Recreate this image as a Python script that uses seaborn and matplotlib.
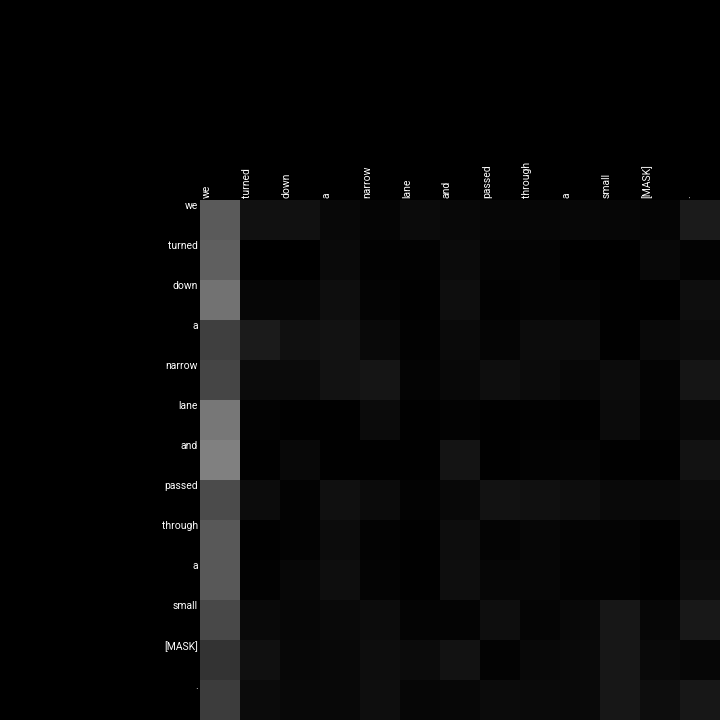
import numpy as np
import pandas as pd
import matplotlib
matplotlib.use('Agg')
import matplotlib.pyplot as plt
import seaborn as sns

# tokens of the sentence (query = rows, key = columns)
tokens = ['we', 'turned', 'down', 'a', 'narrow', 'lane', 'and',
          'passed', 'through', 'a', 'small', '[MASK]', '.']

# attention weights, on a 0-255 grey scale
row_we      = [90, 17, 17,  8,  5, 11,  8,  6,  6,  7,  6,  5, 27]
row_turned  = [95,  0,  0, 10,  2,  2, 11,  4,  4,  0,  0,  8,  3]
row_down    = [114, 6,  6, 14,  4,  1, 14,  2,  4,  4,  1,  0, 14]
row_a1      = [63, 27, 16, 18,  9,  2, 10,  5, 12, 12,  1,  9, 12]
row_narrow  = [69, 11, 11, 18, 21,  4,  8, 14, 11,  7, 12,  4, 21]
row_lane    = [119, 3,  1,  1, 11,  1,  3,  1,  2,  1, 11,  3,  8]
row_and     = [128, 1,  8,  1,  1,  1, 20,  1,  3,  4,  1,  1, 18]
row_passed  = [75, 12,  3, 16, 11,  3,  8, 18, 16, 13,  9,  9, 12]
row_through = [88,  1,  3, 12,  3,  1, 13,  4,  6,  4,  4,  1, 10]
row_a2      = [88,  2,  7, 14,  4,  1, 14,  6,  6,  3,  3,  1, 13]
row_small   = [72,  9,  6,  9, 12,  4,  4, 14,  5,  8, 23,  6, 24]
row_mask    = [51, 16,  7,  8, 13, 11, 18,  3,  8,  9, 23,  9,  6]
row_dot     = [60, 11,  8,  8, 14,  6,  7, 11, 10,  9, 23, 13, 23]

rows = [row_we, row_turned, row_down, row_a1, row_narrow, row_lane, row_and,
        row_passed, row_through, row_a2, row_small, row_mask, row_dot]

attn = pd.DataFrame(rows)

plt.rcParams['font.family'] = ['Roboto', 'DejaVu Sans']

fig = plt.figure(figsize=(7.2, 7.2), dpi=100, facecolor='black')
ax = fig.add_axes([200 / 720, 0, 520 / 720, 520 / 720])
sns.heatmap(attn, cmap='gray', vmin=0, vmax=255, cbar=False, ax=ax,
            xticklabels=tokens, yticklabels=tokens)

ax.xaxis.tick_top()
ax.set_xticks(np.arange(len(tokens)) + 0.17)
ax.set_xticklabels(tokens, rotation=90, ha='center', va='bottom')
ax.set_yticks(np.arange(len(tokens)) + 0.16)
ax.set_yticklabels(tokens, rotation=0, ha='right', va='center')
ax.tick_params(axis='both', length=0, colors='white', labelsize=7.5, pad=1.5)
ax.set_xlabel('')
ax.set_ylabel('')

fig.savefig('out.png', dpi=100, facecolor='black')
